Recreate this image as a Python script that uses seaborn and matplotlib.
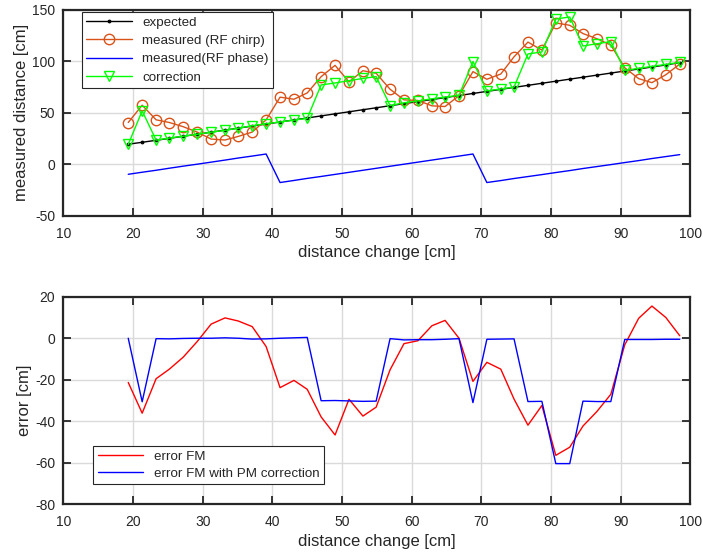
import numpy as np
import pandas as pd
import seaborn as sns
import matplotlib
matplotlib.use("Agg")
from matplotlib import pyplot as plt

# distance change [cm] (x positions of the 41 measurements)
distance = [19.3, 21.3, 23.3, 25.2, 27.2, 29.2, 31.2, 33.2, 35.1, 37.1,
            39.1, 41.1, 43.1, 45.0, 47.0, 49.0, 51.0, 53.0, 54.9, 56.9,
            58.9, 60.9, 62.9, 64.8, 66.8, 68.8, 70.8, 72.8, 74.7, 76.7,
            78.7, 80.7, 82.7, 84.6, 86.6, 88.6, 90.6, 92.6, 94.5, 96.5, 98.5]

expected = [19.5, 21.4, 23.3, 25.2, 27.2, 29.2, 31.2, 33.2, 35.1, 37.1,
            39.1, 41.1, 43.1, 45.0, 47.0, 49.0, 51.0, 53.0, 54.9, 56.9,
            58.9, 60.9, 62.9, 64.8, 66.8, 68.8, 70.8, 72.8, 74.7, 76.7,
            78.7, 80.7, 82.7, 84.6, 86.6, 88.6, 90.6, 92.6, 94.5, 96.5, 98.8]

rf_chirp = [40.6, 57.4, 43.2, 40.6, 36.5, 31.3, 24.5, 23.6, 27.1, 31.3,
            43.2, 65.2, 63.2, 69.3, 85.1, 96.1, 80.0, 90.9, 88.4, 72.9,
            62.6, 62.0, 56.8, 56.1, 66.7, 90.0, 82.6, 87.7, 104.4, 118.7,
            110.9, 137.3, 135.0, 127.0, 122.0, 115.8, 93.8, 83.2, 79.3, 87.0, 97.4]

rf_phase = [-9.7, -7.7, -5.8, -3.8, -1.8, 0.1, 2.1, 4.1, 6.1, 8.0,
            10.0, -17.7, -15.7, -13.7, -11.8, -9.8, -7.8, -5.8, -3.9, -1.9,
            0.1, 2.1, 4.1, 6.0, 8.0, 10.0, -17.7, -15.8, -13.8, -11.9,
            -10.0, -8.0, -6.1, -4.1, -2.2, -0.3, 1.7, 3.6, 5.6, 7.5, 9.4]

correction = [19.3, 51.9, 23.5, 25.5, 27.3, 29.2, 31.2, 33.0, 35.1, 37.5,
              39.4, 41.1, 42.9, 44.6, 77.1, 79.0, 81.2, 83.4, 85.2, 57.1,
              59.7, 61.6, 63.6, 65.3, 67.0, 99.8, 71.3, 73.2, 75.0, 107.2,
              109.1, 141.1, 143.1, 114.9, 117.1, 119.1, 91.2, 93.2, 95.1, 97.0, 99.0]

error_fm = [-21.3, -36.1, -19.5, -14.9, -9.1, -1.6, 6.8, 9.8, 8.3, 5.6,
            -4.0, -23.8, -20.3, -24.6, -37.9, -46.6, -29.4, -37.5, -33.2, -15.2,
            -2.6, -1.2, 6.0, 8.6, 0.0, -20.8, -11.6, -14.9, -29.3, -41.9,
            -32.4, -56.4, -52.5, -42.3, -35.3, -27.0, -3.2, 9.6, 15.5, 10.0, 1.2]

error_pm = [0.0, -30.6, -0.2, -0.3, -0.1, 0.0, 0.0, 0.2, 0.0, -0.4,
            -0.3, 0.0, 0.2, 0.4, -30.1, -30.0, -30.2, -30.4, -30.3, -0.2,
            -0.8, -0.7, -0.7, -0.5, -0.2, -31.0, -0.5, -0.4, -0.3, -30.5,
            -30.4, -60.4, -60.4, -30.3, -30.5, -30.5, -0.6, -0.6, -0.6, -0.5, -0.5]

df = pd.DataFrame({
    "distance": distance,
    "expected": expected,
    "rf_chirp": rf_chirp,
    "rf_phase": rf_phase,
    "correction": correction,
    "error_fm": error_fm,
    "error_pm": error_pm,
})

sns.set_theme(style="whitegrid")
plt.rcParams['font.family'] = ['Liberation Sans', 'DejaVu Sans']
plt.rcParams['axes.unicode_minus'] = False

text_col = '#262626'
matlab_orange = '#D95319'

fig = plt.figure(figsize=(7.03, 5.54), dpi=100)
ax1 = fig.add_axes([0.0903, 0.6105, 0.8915, 0.3717])
ax2 = fig.add_axes([0.0903, 0.0897, 0.8915, 0.3747])


def style_axes(ax, ylim, yticks):
    ax.set_xlim(10, 100)
    ax.set_ylim(*ylim)
    ax.set_xticks(range(10, 101, 10))
    ax.set_yticks(yticks)
    ax.set_facecolor('white')
    ax.grid(True, color='#dadada', linewidth=1.0)
    for sp in ax.spines.values():
        sp.set_color(text_col)
        sp.set_linewidth(1.6)
    ax.tick_params(direction='in', length=6, width=1.3, color=text_col,
                   labelsize=10, labelcolor=text_col, top=True, right=True,
                   bottom=True, left=True)
    ax.tick_params(axis='x', pad=8)
    ax.tick_params(axis='y', pad=6)
    ax.set_xlabel('distance change [cm]', fontsize=12, color=text_col, labelpad=3)


def style_legend(leg):
    leg.get_frame().set_linewidth(0.8)


# top panel
sns.lineplot(data=df, x="distance", y="expected", ax=ax1, color='black',
             marker='.', markersize=4, markeredgecolor='black',
             linewidth=1, label='expected')
sns.lineplot(data=df, x="distance", y="rf_chirp", ax=ax1, color=matlab_orange,
             marker='o', markersize=7.5, markerfacecolor='none',
             markeredgecolor=matlab_orange, markeredgewidth=1,
             linewidth=1, label='measured (RF chirp)')
sns.lineplot(data=df, x="distance", y="rf_phase", ax=ax1, color='#0000ff',
             linewidth=1, label='measured(RF phase)')
sns.lineplot(data=df, x="distance", y="correction", ax=ax1, color='#00ff00',
             marker='v', markersize=7.5, markerfacecolor='none',
             markeredgecolor='#00ff00', markeredgewidth=1,
             linewidth=1, label='correction')
style_axes(ax1, (-50, 150), [-50, 0, 50, 100, 150])
ax1.set_ylabel('measured distance [cm]', fontsize=12, color=text_col, labelpad=2)
leg1 = ax1.legend(loc='upper left', bbox_to_anchor=(0.028, 0.995), fontsize=9.6,
                  frameon=True, fancybox=False, framealpha=1, numpoints=1,
                  edgecolor=text_col, borderpad=0.3, labelspacing=0.45,
                  handlelength=3.4, borderaxespad=0.1)
style_legend(leg1)

# bottom panel
sns.lineplot(data=df, x="distance", y="error_fm", ax=ax2, color='#ff0000',
             linewidth=1, label='error FM')
sns.lineplot(data=df, x="distance", y="error_pm", ax=ax2, color='#0000ff',
             linewidth=1, label='error FM with PM correction')
style_axes(ax2, (-80, 20), [-80, -60, -40, -20, 0, 20])
ax2.set_ylabel('error [cm]', fontsize=12, color=text_col, labelpad=2)
leg2 = ax2.legend(loc='lower left', bbox_to_anchor=(0.045, 0.09), fontsize=9.6,
                  frameon=True, fancybox=False, framealpha=1,
                  edgecolor=text_col, borderpad=0.35, labelspacing=0.35,
                  handlelength=3.4, borderaxespad=0.1)
style_legend(leg2)

fig.savefig('out.png', dpi=100)
